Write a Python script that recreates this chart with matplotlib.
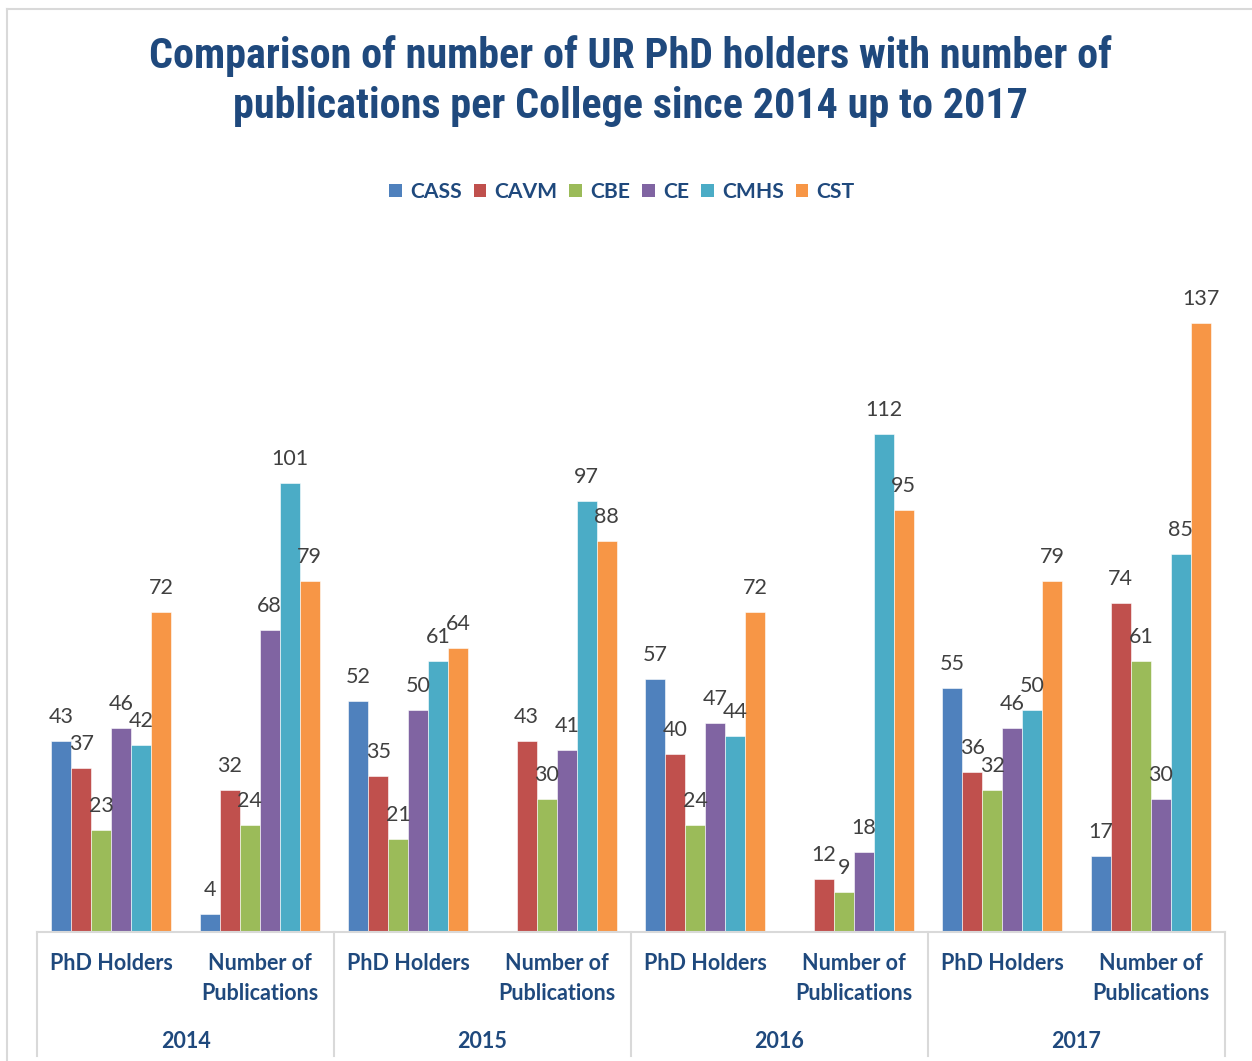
import numpy as np
import matplotlib.pyplot as plt
from matplotlib.lines import Line2D
from matplotlib.patches import Patch

colleges = ['CASS', 'CAVM', 'CBE', 'CE', 'CMHS', 'CST']
colors = ['#4F81BD', '#C0504D', '#9BBB59', '#8064A2', '#4BACC6', '#F79646']
years = ['2014', '2015', '2016', '2017']
categories = ['PhD Holders', 'Number of\nPublications'] * 4

# one list per college, order: 2014 PhD, 2014 Pub, 2015 PhD, 2015 Pub, ...
nan = np.nan
CASS = [43, 4, 52, nan, 57, nan, 55, 17]
CAVM = [37, 32, 35, 43, 40, 12, 36, 74]
CBE = [23, 24, 21, 30, 24, 9, 32, 61]
CE = [46, 68, 50, 41, 47, 18, 46, 30]
CMHS = [42, 101, 61, 97, 44, 112, 50, 85]
CST = [72, 79, 64, 88, 72, 95, 79, 137]
series = [CASS, CAVM, CBE, CE, CMHS, CST]

blue = '#1F497D'
label_font = ['Lato', 'DejaVu Sans']
title_font = ['Liberation Sans Narrow', 'Roboto Condensed', 'DejaVu Sans']

W, H = 1252, 1061
fig = plt.figure(figsize=(W / 100, H / 100), dpi=100)

x0, x1, base, top = 37, 1225, 932, 221
ax = fig.add_axes([x0 / W, (H - base) / H, (x1 - x0) / W, (base - top) / H])

x = np.arange(len(categories))
bw = 20 / 148.5
for k, (name, vals) in enumerate(zip(colleges, series)):
    pos = x + (k - 2.5) * bw
    v = np.array(vals, dtype=float)
    ax.bar(pos, v, width=bw, color=colors[k], edgecolor='white', linewidth=0.4)
    for p, val in zip(pos, v):
        if np.isnan(val):
            continue
        ax.annotate(str(int(val)), (p, val), xytext=(0, 18), textcoords='offset pixels',
                    ha='center', va='baseline', fontsize=15.5, color='#404040',
                    family=label_font)

ax.set_xlim(-0.5, 7.5)
ax.set_ylim(0, 160)
for s in ['top', 'right', 'left']:
    ax.spines[s].set_visible(False)
ax.spines['bottom'].set_color('#D9D9D9')
ax.spines['bottom'].set_linewidth(1.5)
ax.set_xticks([])
ax.set_yticks([])

# category labels
for i, c in enumerate(categories):
    ax.annotate(c, (i, 0), xycoords=('data', 'axes fraction'), xytext=(0, -21),
                textcoords='offset pixels', ha='center', va='top', fontsize=15.5,
                fontweight='bold', color=blue, family=label_font, linespacing=1.55)
for j, yr in enumerate(years):
    ax.annotate(yr, (2 * j + 0.5, 0), xycoords=('data', 'axes fraction'), xytext=(0, -110),
                textcoords='offset pixels', ha='center', va='center', fontsize=15.5,
                fontweight='bold', color=blue, family=label_font)

# group separators below the axis
for j in range(5):
    xp = (x0 + 297 * j) / W
    fig.add_artist(Line2D([xp, xp], [(H - base) / H, (H - 1056) / H],
                          color='#D9D9D9', linewidth=1.5))

# chart border (left and top visible)
fig.add_artist(Line2D([7 / W, 7 / W], [0, (H - 9) / H], color='#D9D9D9', linewidth=1.5))
fig.add_artist(Line2D([7 / W, 1], [(H - 9) / H, (H - 9) / H], color='#D9D9D9', linewidth=1.5))

fig.text(630 / W, (H - 81) / H,
         'Comparison of number of UR PhD holders with number of\npublications per College since 2014 up to 2017',
         ha='center', va='center', fontsize=30.3, fontweight='bold', color=blue,
         family=title_font, linespacing=1.27)

handles = [Patch(facecolor=c, edgecolor='none') for c in colors]
leg = fig.legend(handles, colleges, loc='center', bbox_to_anchor=(622 / W, (H - 192) / H),
                 ncol=6, frameon=False, handlelength=0.6, handleheight=0.6,
                 handletextpad=0.4, columnspacing=0.55,
                 prop={'family': label_font, 'weight': 'bold', 'size': 15.2})
for t in leg.get_texts():
    t.set_color(blue)

fig.savefig('out.png', dpi=100)
